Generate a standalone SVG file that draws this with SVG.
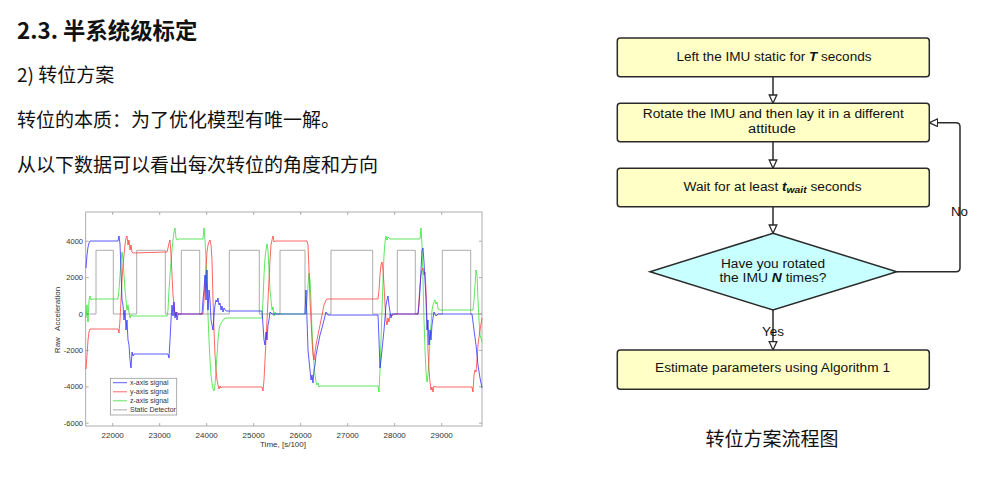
<svg xmlns="http://www.w3.org/2000/svg" width="991" height="482" viewBox="0 0 991 482">
  <style>
    .cjk { font-family: "Noto Sans CJK SC", "Noto Sans", sans-serif; fill: #111; }
    .ax { font-family: "Liberation Sans", Arial, sans-serif; fill: #333; }
    .fc { font-family: "Liberation Sans", Arial, sans-serif; font-size: 12px; fill: #111; }
    .bi { font-weight: bold; font-style: italic; }
    .box { fill: #ffffc6; stroke: #2a2a2a; stroke-width: 1.5; }
    .dec { fill: #c8ffff; stroke: #2a2a2a; stroke-width: 1.5; }
    .edge { fill: none; stroke: #2a2a2a; stroke-width: 1.5; marker-end: url(#open); }
    .sig { fill: none; stroke-width: 0.9; stroke-linejoin: round; stroke-opacity: 0.8; }
    .tick { stroke: #999; stroke-width: 0.8; }
  </style>
  <defs>
    <marker id="open" markerUnits="userSpaceOnUse" markerWidth="12" markerHeight="12" refX="9" refY="4.5" orient="auto">
      <path d="M0.7,0.7 L9,4.5 L0.7,8.3 Z" fill="#fff" stroke="#2a2a2a" stroke-width="1.3"/>
    </marker>
  </defs>

  <rect width="991" height="482" fill="#fff"/>

  <!-- Slide text -->
  <text class="cjk" x="17" y="38.5" font-size="22.4" font-weight="bold">2.3. 半系统级标定</text>
  <text class="cjk" x="17" y="82" font-size="19">2) 转位方案</text>
  <text class="cjk" x="17" y="127" font-size="19">转位的本质：为了优化模型有唯一解。</text>
  <text class="cjk" x="17" y="172" font-size="19">从以下数据可以看出每次转位的角度和方向</text>

  <!-- Accelerometer plot -->
  <g id="plot">
    <rect x="85.7" y="212" width="396.3" height="214" fill="#fff" stroke="#999" stroke-width="0.8"/>
    <g class="tick">
      <path d="M112.7,212v3M159.7,212v3M206.7,212v3M253.7,212v3M300.7,212v3M347.7,212v3M394.7,212v3M441.7,212v3"/>
      <path d="M112.7,426v-3M159.7,426v-3M206.7,426v-3M253.7,426v-3M300.7,426v-3M347.7,426v-3M394.7,426v-3M441.7,426v-3"/>
      <path d="M85.7,241.2h3M85.7,277.6h3M85.7,314h3M85.7,350.4h3M85.7,386.8h3M85.7,423.2h3"/>
      <path d="M482,241.2h-3M482,277.6h-3M482,314h-3M482,350.4h-3M482,386.8h-3M482,423.2h-3"/>
    </g>
    <g class="ax" font-size="7.5" text-anchor="end">
      <text x="83" y="243.8">4000</text>
      <text x="83" y="280.2">2000</text>
      <text x="83" y="316.6">0</text>
      <text x="83" y="353">-2000</text>
      <text x="83" y="389.4">-4000</text>
      <text x="83" y="425.8">-6000</text>
    </g>
    <g class="ax" font-size="8" text-anchor="middle">
      <text x="112.7" y="438">22000</text>
      <text x="159.7" y="438">23000</text>
      <text x="206.7" y="438">24000</text>
      <text x="253.7" y="438">25000</text>
      <text x="300.7" y="438">26000</text>
      <text x="347.7" y="438">27000</text>
      <text x="394.7" y="438">28000</text>
      <text x="441.7" y="438">29000</text>
    </g>
    <text class="ax" x="283" y="447" font-size="8" text-anchor="middle">Time, [s/100]</text>
    <text class="ax" font-size="8" text-anchor="middle" transform="translate(60,320) rotate(-90)" xml:space="preserve">Raw   Acceleration</text>

    <!-- static detector -->
    <path class="sig" stroke="#8c8c8c" d="M86,314 H96 V250.3 H113.3 V314 H136.7 V250.3 H165.3 V314 H181.3 V250.3 H199.7 V314 H229.3 V250.3 H259.3 V314 H280 V250.3 H305 V314 H331 V250.3 H372.7 V314 H397.3 V250.3 H415.3 V314 H442.3 V250.3 H470.7 V314 H482"/>
    <!-- z-axis -->
    <polyline class="sig" stroke="#22dd22" points="86,318 87,305 88,322 89,300 90,296 91,300 92,299 118,299 119,290 120,275 121,262 122,252 123,260 124,275 125,290 126,300 127,310 128,305 129,312 130,318 131,315 133,316 167,316 168,310 169,290 170,275 171,262 172,250 173,240 174,232 175,228 176,238 177,240 179,239 203,239 204,228 205,240 206,260 207,290 208,315 209,340 210,360 211,375 212,383 213,389 214,391 215,385 216,370 217,355 218,340 219,330 220,325 222,322 224,319 226,318 262,318 263,300 264,275 265,258 266,250 267,244 268,250 269,270 270,290 271,300 272,310 273,307 274,316 275,312 277,314 306,314 307,300 308,285 309,273 310,280 311,300 312,330 313,350 314,365 315,375 316,382 317,385 318,383 319,387 320,386 322,386 378,386 379,392 380,370 381,340 382,310 383,280 384,255 385,242 386,236 387,240 388,237 390,239 420,239 421,228 422,245 423,280 424,320 425,350 426,372 427,382 428,375 429,360 430,340 431,325 432,310 433,305 434,302 435,300 436,304 437,302 438,309 440,310 473,310 474,300 475,285 476,270 477,275 478,300 479,320 480,335 482,342"/>
    <!-- y-axis -->
    <polyline class="sig" stroke="#ff2a2a" points="86,369 87,355 88,340 89,332 90,329 118,329 119,333 120,320 121,300 122,280 123,265 124,255 125,245 126,238 127,236 128,245 129,240 130,250 131,245 132,252 133,253 167,252 168,248 169,243 170,240 171,255 172,275 173,295 174,305 175,315 176,316 177,312 178,314 203,314 204,300 205,285 206,268 207,252 208,245 209,242 210,240 211,245 212,260 213,300 214,330 215,355 216,370 217,380 218,385 219,389 220,386 221,388 222,387 262,387 263,391 264,380 265,360 266,340 267,320 268,300 269,280 270,260 271,245 272,240 273,236 274,242 275,241 307,241 308,245 309,270 310,300 311,320 312,340 313,355 314,360 315,352 316,345 318,335 320,325 322,315 324,305 326,300 327,299 378,299 379,290 380,275 381,265 382,262 383,270 384,285 385,305 386,320 387,325 388,318 389,322 390,314 392,316 394,314 418,314 419,300 420,285 421,275 422,270 423,268 424,275 425,272 426,290 427,320 428,350 429,370 430,382 431,390 432,387 433,392 434,386 436,387 472,387 473,392 474,375 475,370 476,372 477,360 478,345 480,330 482,318"/>
    <!-- x-axis -->
    <polyline class="sig" stroke="#1a1aff" points="86,268 87,255 88,247 89,243 90,241 118,241 119,236 120,244 121,270 122,300 123,305 124,320 125,310 126,330 127,320 128,340 129,345 130,360 131,368 132,352 133,356 134,354 168,354 169,358 170,340 171,320 172,305 173,316 174,302 175,318 176,312 177,320 178,314 202,314 203,300 204,290 205,275 206,300 207,270 208,310 209,290 210,300 211,320 212,325 213,330 214,315 215,305 216,300 217,302 218,298 219,305 220,303 221,310 222,306 223,312 224,308 226,311 262,311 263,325 264,340 265,345 266,332 267,340 268,325 269,320 270,312 272,314 305,314 306,290 307,320 308,350 310,370 311,380 312,375 313,383 314,370 315,365 316,355 318,345 320,335 322,328 324,320 326,312 328,315 378,315 379,340 380,368 381,360 382,350 383,340 384,330 385,318 386,305 387,300 388,296 389,305 390,312 391,318 392,314 418,314 419,305 420,290 421,270 422,250 423,248 424,262 425,280 426,300 427,330 428,320 429,345 430,330 431,340 432,325 433,318 434,312 436,316 438,314 472,314 474,330 476,345 478,365 480,378 482,388"/>

    <!-- legend -->
    <rect x="110.5" y="378.3" width="66.2" height="36.7" fill="#fff" stroke="#999" stroke-width="0.8"/>
    <path d="M113,382.7h14" stroke="#1a1aff" stroke-width="0.9" stroke-opacity="0.8"/>
    <path d="M113,391.8h14" stroke="#ff2a2a" stroke-width="0.9" stroke-opacity="0.8"/>
    <path d="M113,400.8h14" stroke="#22dd22" stroke-width="0.9" stroke-opacity="0.8"/>
    <path d="M113,409.9h14" stroke="#8c8c8c" stroke-width="0.9" stroke-opacity="0.8"/>
    <g class="ax" font-size="7">
      <text x="130" y="385.2">x-axis signal</text>
      <text x="130" y="394.3">y-axis signal</text>
      <text x="130" y="403.3">z-axis signal</text>
      <text x="130" y="412.4">Static Detector</text>
    </g>
  </g>

  <!-- Flowchart connectors -->
  <g id="connectors">
    <path class="edge" d="M773,76.7 V103.3"/>
    <path class="edge" d="M773,141.7 V168.3"/>
    <path class="edge" d="M773,206.7 V233.3"/>
    <path class="edge" d="M773,310 V350"/>
    <path class="edge" d="M896.7,271.7 H956 Q960,271.7 960,267.7 V126.7 Q960,122.7 956,122.7 H929.3"/>
    <text class="fc" x="773" y="336" text-anchor="middle" textLength="22" lengthAdjust="spacingAndGlyphs">Yes</text>
    <text class="fc" x="959.5" y="216" text-anchor="middle" textLength="17" lengthAdjust="spacingAndGlyphs">No</text>
  </g>

  <!-- Flowchart nodes -->
  <g id="n-static">
    <rect class="box" x="617.3" y="38" width="312" height="38.7" rx="3"/>
    <text class="fc" x="774" y="60.5" text-anchor="middle" textLength="195" lengthAdjust="spacingAndGlyphs">Left the IMU static for <tspan class="bi">T</tspan> seconds</text>
  </g>
  <g id="n-rotate">
    <rect class="box" x="617.3" y="103.3" width="312" height="38.4" rx="3"/>
    <text class="fc" x="773.3" y="117.5" text-anchor="middle" textLength="261" lengthAdjust="spacingAndGlyphs">Rotate the IMU and then lay it in a different</text>
    <text class="fc" x="772" y="133" text-anchor="middle" textLength="48" lengthAdjust="spacingAndGlyphs">attitude</text>
  </g>
  <g id="n-wait">
    <rect class="box" x="617.3" y="168.3" width="312" height="38.4" rx="3"/>
    <text class="fc" x="772.5" y="191" text-anchor="middle" textLength="178" lengthAdjust="spacingAndGlyphs">Wait for at least <tspan class="bi">t</tspan><tspan class="bi" font-size="9" dy="2">wait</tspan><tspan dy="-2"> seconds</tspan></text>
  </g>
  <g id="n-check">
    <polygon class="dec" points="773,233.3 896.7,271.7 773,310 650,271.7"/>
    <text class="fc" x="773" y="267.6" text-anchor="middle" textLength="104" lengthAdjust="spacingAndGlyphs">Have you rotated</text>
    <text class="fc" x="773" y="281.6" text-anchor="middle" textLength="107" lengthAdjust="spacingAndGlyphs">the IMU <tspan class="bi">N</tspan> times?</text>
  </g>
  <g id="n-estimate">
    <rect class="box" x="617.3" y="350" width="312" height="39.3" rx="3"/>
    <text class="fc" x="772.5" y="371.6" text-anchor="middle" textLength="235" lengthAdjust="spacingAndGlyphs">Estimate parameters using Algorithm 1</text>
  </g>

  <text class="cjk" x="772" y="446" font-size="19" text-anchor="middle">转位方案流程图</text>
</svg>
